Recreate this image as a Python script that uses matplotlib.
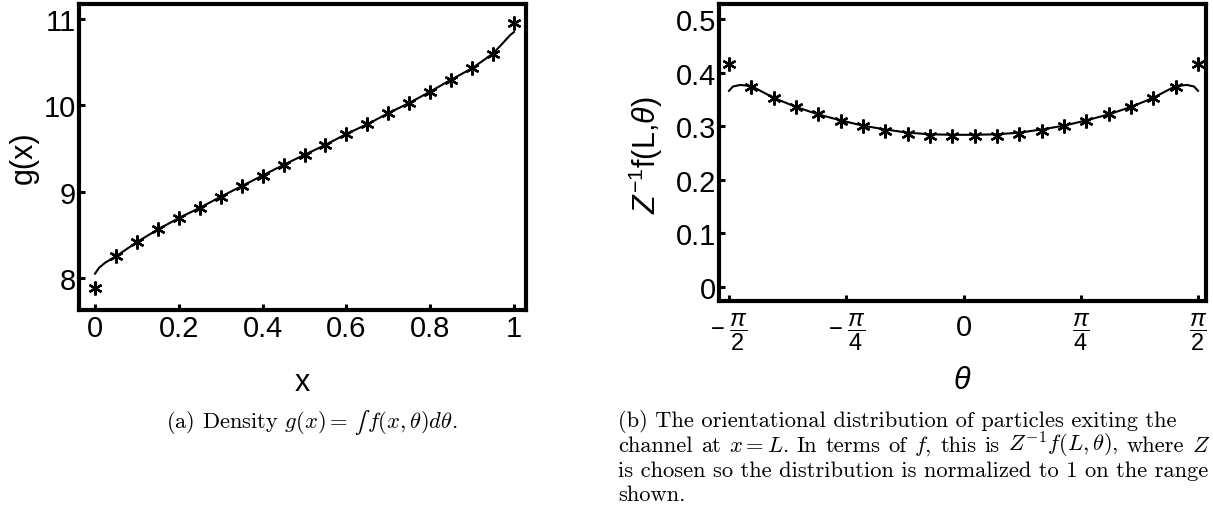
import matplotlib
matplotlib.use("Agg")
import matplotlib.pyplot as plt
import matplotlib.transforms as mtrans

# ---------------- data ----------------
x_pts = [0.00, 0.05, 0.10, 0.15, 0.20, 0.25, 0.30, 0.35, 0.40, 0.45, 0.50,
         0.55, 0.60, 0.65, 0.70, 0.75, 0.80, 0.85, 0.90, 0.95, 1.00]
g_pts = [7.884, 8.250, 8.416, 8.562, 8.694, 8.813, 8.941, 9.064, 9.187, 9.311, 9.427,
         9.542, 9.669, 9.781, 9.909, 10.028, 10.159, 10.298, 10.430, 10.600, 10.950]

x_line = [0.00, 0.01, 0.025, 0.05, 0.10, 0.15, 0.20, 0.25, 0.30, 0.35, 0.40, 0.45, 0.50,
          0.55, 0.60, 0.65, 0.70, 0.75, 0.80, 0.85, 0.90, 0.95, 0.975, 0.99, 1.00]
g_line = [8.05, 8.12, 8.18, 8.250, 8.416, 8.562, 8.694, 8.813, 8.941, 9.064, 9.187, 9.311, 9.427,
          9.542, 9.669, 9.781, 9.909, 10.028, 10.159, 10.298, 10.430, 10.600, 10.73, 10.81, 10.85]

x_ticks = [0, 0.2, 0.4, 0.6, 0.8, 1.0]
x_ticklabels = ["0", "0.2", "0.4", "0.6", "0.8", "1"]
g_ticks = [8, 9, 10, 11]
g_ticklabels = ["8", "9", "10", "11"]

theta_pts = [-1.570796, -1.421196, -1.271596, -1.121997, -0.972397, -0.822798, -0.673198,
             -0.523599, -0.373999, -0.224399, -0.074800, 0.074800, 0.224399, 0.373999,
             0.523599, 0.673198, 0.822798, 0.972397, 1.121997, 1.271596, 1.421196, 1.570796]
f_pts = [0.416, 0.374, 0.352, 0.335, 0.322, 0.310, 0.300, 0.292, 0.286, 0.282, 0.281,
         0.281, 0.282, 0.286, 0.292, 0.300, 0.310, 0.322, 0.335, 0.352, 0.374, 0.416]

theta_line = [-1.570796, -1.545, -1.497,
              -1.421196, -1.271596, -1.121997, -0.972397, -0.822798, -0.673198,
              -0.523599, -0.373999, -0.224399, -0.074800, 0.074800, 0.224399, 0.373999,
              0.523599, 0.673198, 0.822798, 0.972397, 1.121997, 1.271596, 1.421196,
              1.497, 1.545, 1.570796]
f_line = [0.366, 0.374, 0.377,
          0.375, 0.353, 0.336, 0.322, 0.311, 0.301, 0.294, 0.288, 0.285, 0.284,
          0.284, 0.285, 0.288, 0.294, 0.301, 0.311, 0.322, 0.336, 0.353, 0.375,
          0.377, 0.374, 0.366]

theta_ticks = [-1.570796, -0.785398, 0.0, 0.785398, 1.570796]
theta_ticklabels = [r"$-\;\dfrac{\pi}{2}$", r"$-\;\dfrac{\pi}{4}$", "0",
                    r"$\dfrac{\pi}{4}$", r"$\dfrac{\pi}{2}$"]
f_ticks = [0, 0.1, 0.2, 0.3, 0.4, 0.5]
f_ticklabels = ["0", "0.1", "0.2", "0.3", "0.4", "0.5"]

caption_a_parts = [r"(a) Density $g(x)=$", "\u222b", r"$f(x,\theta)d\theta$."]
caption_b = [r"(b) The orientational distribution of particles exiting the",
             r"channel at $x=L$. In terms of $f$, this is $Z^{-1}f(L,\theta)$, where $Z$",
             r"is chosen so the distribution is normalized to 1 on the range",
             r"shown."]

# ---------------- style ----------------
plt.rcParams["font.family"] = ["Liberation Sans", "DejaVu Sans"]
plt.rcParams["mathtext.fontset"] = "custom"
plt.rcParams["mathtext.rm"] = "Liberation Sans"
plt.rcParams["mathtext.it"] = "Liberation Sans:italic"
plt.rcParams["mathtext.bf"] = "Liberation Sans:bold"
plt.rcParams["mathtext.sf"] = "Liberation Sans"

W, H = 1213, 510
fig = plt.figure(figsize=(W / 100, H / 100), dpi=100)


def px_axes(l, t, r, b):
    return fig.add_axes([l / W, 1 - b / H, (r - l) / W, (b - t) / H])


def style(ax):
    for s in ax.spines.values():
        s.set_linewidth(3)
    ax.tick_params(direction="in", length=4, width=2.2, labelsize=21,
                   top=False, right=False, pad=3)


MK = dict(linestyle="none", marker=(6, 2, 0), ms=10, mew=1.7, color="black",
          zorder=3, clip_on=False)

# left panel
ax1 = px_axes(79, 5, 526, 311)
style(ax1)
ax1.plot(x_line, g_line, color="black", lw=1.5, zorder=2)
ax1.plot(x_pts, g_pts, **MK)
ax1.set_xlim(-0.0382, 1.0286)
ax1.set_ylim(7.629, 11.174)
ax1.set_xticks(x_ticks)
ax1.set_xticklabels(x_ticklabels)
ax1.set_yticks(g_ticks)
ax1.set_yticklabels(g_ticklabels)
ax1.tick_params(axis="y", pad=2)

# right panel
AX2_T, AX2_B = 5, 302
ax2 = px_axes(719, AX2_T, 1206, AX2_B)
style(ax2)
ax2.plot(theta_line, f_line, color="black", lw=1.5, zorder=2)
ax2.plot(theta_pts, f_pts, **MK)
ax2.set_xlim(-1.6378, 1.6244)
ax2.set_ylim(-0.026, 0.528)
ax2.set_xticks(theta_ticks)
ax2.set_xticklabels([""] * len(theta_ticks))
ax2.set_yticks(f_ticks)
ax2.set_yticklabels(f_ticklabels)
ax2.tick_params(axis="y", pad=2)

# theta tick labels drawn as texts, vertically centred like the reference
blend = mtrans.blended_transform_factory(ax2.transData, ax2.transAxes)
for t, lab in zip(theta_ticks, theta_ticklabels):
    is_frac = "frac" in lab
    yc = 332 if is_frac else 328
    ax2.text(t, -(yc - AX2_B) / (AX2_B - AX2_T), lab, transform=blend,
             ha="center", va="center", fontsize=17 if is_frac else 21, clip_on=False)


def ftext(x, y, s, **kw):
    return fig.text(x / W, 1 - y / H, s, **kw)


# axis labels
ftext(24, 158, "g(x)", rotation=90, ha="center", va="center", fontsize=22)
ftext(302, 383, "x", ha="center", va="center", fontsize=22)
ftext(646, 155, r"$Z^{-1}$f(L,$\theta$)", rotation=90, ha="center", va="center", fontsize=22)
ftext(962, 381, r"$\theta$", ha="center", va="center", fontsize=22)

# captions
cap_kw = dict(family="cmr10", math_fontfamily="cm", fontsize=16.2)
int_kw = dict(family="STIXGeneral", fontsize=16.2)
renderer = fig.canvas.get_renderer()

# caption (a): pieces placed side by side, centred at x = 312
part_kw = [cap_kw, int_kw, cap_kw]
part_gap = [6, 3]
a_texts = [ftext(0, 428, s, ha="left", va="baseline", **k)
           for s, k in zip(caption_a_parts, part_kw)]
a_w = [t.get_window_extent(renderer).width for t in a_texts]
total = sum(a_w) + sum(part_gap)
xpos = 312 - total / 2
for i, (t, w) in enumerate(zip(a_texts, a_w)):
    t.set_x(xpos / W)
    xpos += w + (part_gap[i] if i < len(part_gap) else 0)

# caption (b): justified like the LaTeX paragraph
justify = {1: 1210}
base0, lead = 427, 24.8
for i, line in enumerate(caption_b):
    y = base0 + i * lead
    if i in justify:
        words = line.split(" ")
        texts = [ftext(0, y, w, ha="left", va="baseline", **cap_kw) for w in words]
        widths = [t.get_window_extent(renderer).width for t in texts]
        gap = (justify[i] - 618 - sum(widths)) / (len(words) - 1)
        xpos = 618
        for t, w in zip(texts, widths):
            t.set_x(xpos / W)
            xpos += w + gap
    else:
        ftext(618, y, line, ha="left", va="baseline", **cap_kw)

fig.savefig("out.png", dpi=100)
